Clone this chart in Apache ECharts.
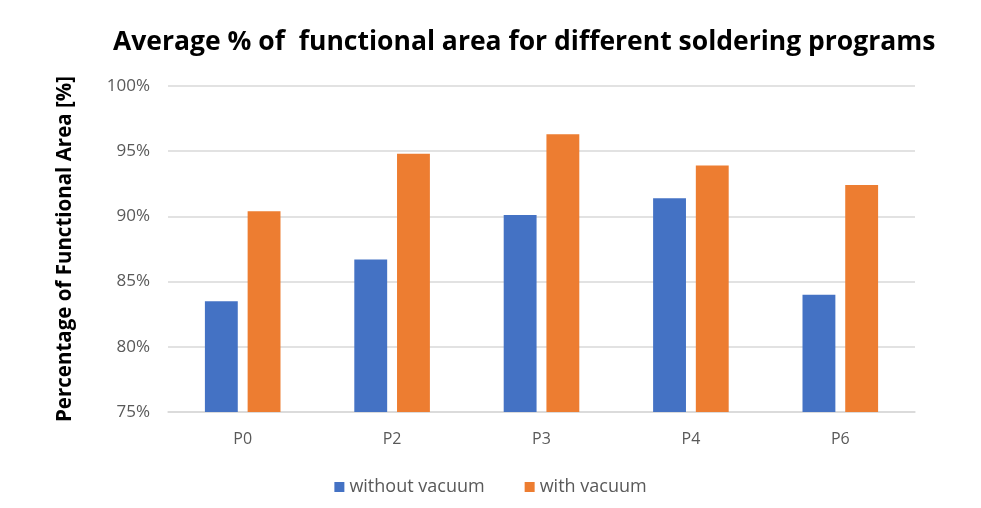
<!DOCTYPE html>
<html><head><meta charset="utf-8">
<script src="https://cdn.jsdelivr.net/npm/echarts@6/dist/echarts.min.js"></script>
<style>html,body{margin:0;padding:0;background:#fff}#c{width:981px;height:508px}</style>
</head><body><div id="c"></div>
<script>
const categories = ['P0', 'P2', 'P3', 'P4', 'P6'];
const withoutVacuum = [83.5, 86.7, 90.1, 91.4, 84.0];
const withVacuum = [90.4, 94.8, 96.3, 93.9, 92.4];
const seriesNames = ['without vacuum', 'with vacuum'];
const yTicks = { min: 75, max: 100, interval: 5 };

const chart = echarts.init(document.getElementById('c'));
const font = '"Open Sans", "Noto Sans", sans-serif';
chart.setOption({
  animation: false,
  title: {
    text: 'Average % of  functional area for different soldering programs',
    left: 108, top: 24,
    textStyle: { fontFamily: font, fontWeight: 'bold', fontSize: 26.5, color: '#000' }
  },
  legend: {
    bottom: 7, left: 'center', itemWidth: 10, itemHeight: 10, itemGap: 40,
    icon: 'rect',
    textStyle: { fontFamily: font, fontSize: 18, color: '#595959' },
    data: seriesNames
  },
  grid: { left: 168, right: 66, top: 86, bottom: 96 },
  xAxis: {
    type: 'category', data: categories,
    axisTick: { show: false },
    axisLine: { lineStyle: { color: '#d9d9d9', width: 1.5 } },
    axisLabel: { fontFamily: font, fontSize: 16, color: '#595959', margin: 19 }
  },
  yAxis: {
    type: 'value', min: yTicks.min, max: yTicks.max, interval: yTicks.interval,
    name: 'Percentage of Functional Area [%]', nameLocation: 'middle', nameGap: 92,
    nameTextStyle: { fontFamily: font, fontWeight: 'bold', fontSize: 20.5, color: '#000' },
    axisLabel: { formatter: '{value}%', fontFamily: font, fontSize: 17, color: '#595959', margin: 18 },
    axisLine: { show: false }, axisTick: { show: false },
    splitLine: { lineStyle: { color: '#d9d9d9', width: 1.5 } }
  },
  series: [
    { name: seriesNames[0], type: 'bar', data: withoutVacuum, barWidth: '22%', barGap: '30%',
      itemStyle: { color: '#4472c4' } },
    { name: seriesNames[1], type: 'bar', data: withVacuum, barWidth: '22%', barGap: '30%',
      itemStyle: { color: '#ed7d31' } }
  ]
});
</script></body></html>
